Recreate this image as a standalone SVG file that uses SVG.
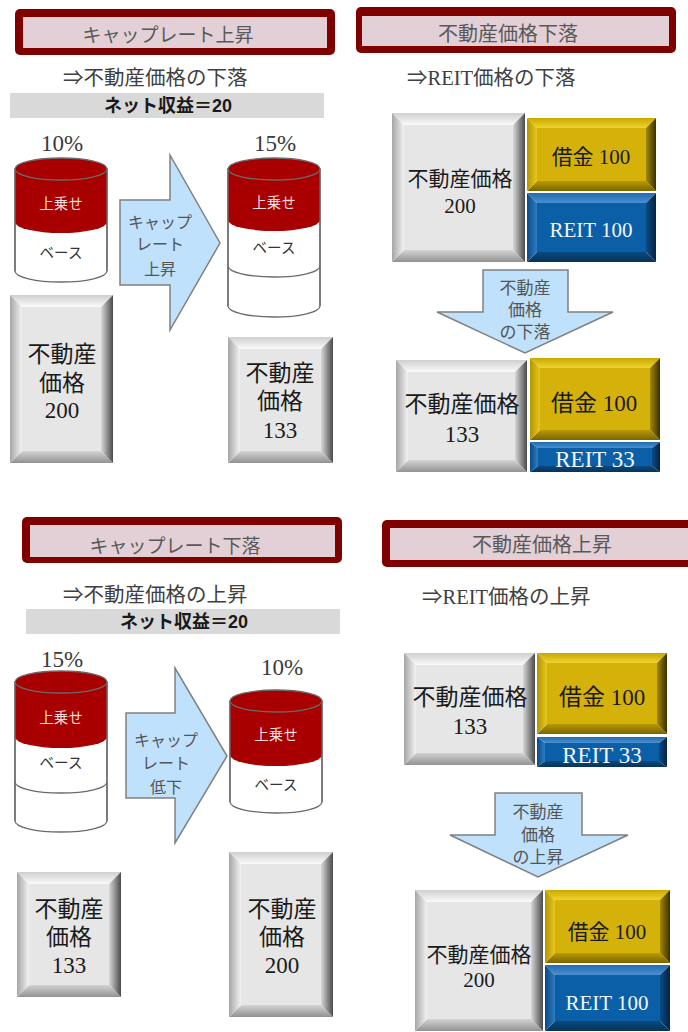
<svg xmlns="http://www.w3.org/2000/svg" width="688" height="1032" viewBox="0 0 688 1032">
<style>
.ttl-o{fill:#800000}
.ttl-i{fill:#e2d0d6}
.ttl{font-family:"Liberation Serif","Noto Sans CJK JP",serif;font-size:19px;fill:#595959;text-anchor:middle}
.sub{font-family:"Liberation Serif","Noto Sans CJK JP",serif;font-size:20.5px;fill:#404040}
.bar{fill:#d9d9d9}
.bart{font-family:"Liberation Sans","Noto Sans CJK JP",sans-serif;font-size:18px;font-weight:bold;fill:#1a1a1a;text-anchor:middle}
.pct{font-family:"Liberation Serif","Noto Sans CJK JP",serif;font-size:23px;fill:#3a3a3a;text-anchor:middle}
.cyl{fill:#fff;stroke:#6a6a6a;stroke-width:1.3}
.red{fill:#a80000}
.redtop{fill:#a80000;stroke:#6a6a6a;stroke-width:1.3}
.ln{fill:none;stroke:#6a6a6a;stroke-width:1.3}
.cw{font-family:"Noto Sans CJK JP",sans-serif;font-size:14.5px;fill:#f4dede;text-anchor:middle}
.cb{font-family:"Noto Sans CJK JP",sans-serif;font-size:14.5px;fill:#333;text-anchor:middle}
.arr{fill:#bfe1fb;stroke:#808080;stroke-width:1.5}
.at{font-family:"Liberation Serif","Noto Sans CJK JP",serif;font-size:16px;fill:#555;text-anchor:middle}
.at2{font-family:"Liberation Serif","Noto Sans CJK JP",serif;font-size:17px;fill:#555;text-anchor:middle}
.bt{font-family:"Liberation Serif","Noto Sans CJK JP",serif;fill:#1a1a1a;text-anchor:middle}
.wt{font-family:"Liberation Serif","Noto Sans CJK JP",serif;fill:#f2f6fa;text-anchor:middle}
.gf{fill:#e6e6e6}.gt{fill:url(#gT)}.gl{fill:url(#gL)}.gr{fill:url(#gR)}.gb{fill:url(#gB)}
.yf{fill:#d4b20a}.yt{fill:url(#yT)}.yl{fill:url(#yL)}.yr{fill:url(#yR)}.yb{fill:url(#yB)}
.uf{fill:#0b5fa6}.ut{fill:url(#uT)}.ul{fill:url(#uL)}.ur{fill:url(#uR)}.ub{fill:url(#uB)}
</style>
<defs>
<linearGradient id="gT" x1="0" y1="0" x2="0" y2="1"><stop offset="0" stop-color="#cfcfcf"/><stop offset="1" stop-color="#fafafa"/></linearGradient>
<linearGradient id="gL" x1="0" y1="0" x2="1" y2="0"><stop offset="0" stop-color="#a6a6a6"/><stop offset="1" stop-color="#f2f2f2"/></linearGradient>
<linearGradient id="gR" x1="0" y1="0" x2="1" y2="0"><stop offset="0" stop-color="#d8d8d8"/><stop offset="1" stop-color="#4a4a4a"/></linearGradient>
<linearGradient id="gB" x1="0" y1="0" x2="0" y2="1"><stop offset="0" stop-color="#d4d4d4"/><stop offset="1" stop-color="#929292"/></linearGradient>
<linearGradient id="yT" x1="0" y1="0" x2="0" y2="1"><stop offset="0" stop-color="#c9a900"/><stop offset="1" stop-color="#f0d330"/></linearGradient>
<linearGradient id="yL" x1="0" y1="0" x2="1" y2="0"><stop offset="0" stop-color="#b39500"/><stop offset="1" stop-color="#e6c720"/></linearGradient>
<linearGradient id="yR" x1="0" y1="0" x2="1" y2="0"><stop offset="0" stop-color="#a48800"/><stop offset="1" stop-color="#3a3000"/></linearGradient>
<linearGradient id="yB" x1="0" y1="0" x2="0" y2="1"><stop offset="0" stop-color="#b89a00"/><stop offset="1" stop-color="#7a6500"/></linearGradient>
<linearGradient id="uT" x1="0" y1="0" x2="0" y2="1"><stop offset="0" stop-color="#1f6cb0"/><stop offset="1" stop-color="#4b8fd0"/></linearGradient>
<linearGradient id="uL" x1="0" y1="0" x2="1" y2="0"><stop offset="0" stop-color="#0a4a85"/><stop offset="1" stop-color="#2f7cc2"/></linearGradient>
<linearGradient id="uR" x1="0" y1="0" x2="1" y2="0"><stop offset="0" stop-color="#0a4c88"/><stop offset="1" stop-color="#06223f"/></linearGradient>
<linearGradient id="uB" x1="0" y1="0" x2="0" y2="1"><stop offset="0" stop-color="#0a4a82"/><stop offset="1" stop-color="#073257"/></linearGradient>
</defs>

<!-- ===== Top-left panel ===== -->
<g id="title-cap-up">
<rect class="ttl-o" x="15" y="9" width="320" height="46" rx="5"/>
<rect class="ttl-i" x="23" y="17" width="304" height="31"/>
<text class="ttl" x="168" y="42">キャップレート上昇</text>
</g>
<g id="sub-tl"><text class="sub" x="63" y="85">⇒不動産価格の下落</text></g>
<g id="bar-tl">
<rect class="bar" x="10" y="93" width="314" height="25"/>
<text class="bart" x="168" y="112">ネット収益＝20</text>
</g>

<g id="cyl-tl1">
<text class="pct" x="62" y="151">10%</text>
<path class="cyl" d="M15,169 L15,271 A46,11 0 0 0 107,271 L107,169 Z"/>
<path class="red" d="M15,169 L15,222 A46,11 0 0 0 107,222 L107,169 Z"/>
<path class="ln" d="M15,169 L15,271 M107,169 L107,271"/>
<ellipse class="redtop" cx="61" cy="169" rx="46" ry="11"/>
<text class="cw" x="61" y="209">上乗せ</text>
<text class="cb" x="61" y="258">ベース</text>
</g>

<g id="arrow-tl">
<polygon class="arr" points="120,200 170,200 170,155 220,243 170,330 170,285 120,285"/>
<text class="at" x="160" y="228">キャップ</text>
<text class="at" x="160" y="250">レート</text>
<text class="at" x="160" y="275">上昇</text>
</g>

<g id="cyl-tl2">
<text class="pct" x="275" y="151">15%</text>
<path class="cyl" d="M228,169 L228,306 A46,11 0 0 0 320,306 L320,169 Z"/>
<path class="red" d="M228,169 L228,220 A46,11 0 0 0 320,220 L320,169 Z"/>
<path class="ln" d="M228,169 L228,306 M320,169 L320,306 M228,266 A46,11 0 0 0 320,266"/>
<ellipse class="redtop" cx="274" cy="169" rx="46" ry="11"/>
<text class="cw" x="274" y="208">上乗せ</text>
<text class="cb" x="274" y="253">ベース</text>
</g>

<g id="box-tl-200">
<polygon class="gt" points="10,295 113,295 101,307 22,307"/>
<polygon class="gb" points="10,463 113,463 101,451 22,451"/>
<polygon class="gl" points="10,295 22,307 22,451 10,463"/>
<polygon class="gr" points="113,295 101,307 101,451 113,463"/>
<rect class="gf" x="22" y="307" width="79" height="144"/>
<text class="bt" font-size="23" x="62" y="362">不動産</text>
<text class="bt" font-size="23" x="62" y="391">価格</text>
<text class="bt" font-size="23" x="62" y="418">200</text>
</g>

<g id="box-tl-133">
<polygon class="gt" points="228,337 333,337 321,349 240,349"/>
<polygon class="gb" points="228,463 333,463 321,451 240,451"/>
<polygon class="gl" points="228,337 240,349 240,451 228,463"/>
<polygon class="gr" points="333,337 321,349 321,451 333,463"/>
<rect class="gf" x="240" y="349" width="81" height="102"/>
<text class="bt" font-size="23" x="280" y="381">不動産</text>
<text class="bt" font-size="23" x="280" y="409">価格</text>
<text class="bt" font-size="23" x="280" y="438">133</text>
</g>

<!-- ===== Top-right panel ===== -->
<g id="title-price-down">
<rect class="ttl-o" x="356" y="7" width="320" height="46" rx="5"/>
<rect class="ttl-i" x="362" y="16" width="307" height="30"/>
<text class="ttl" x="508" y="41" style="font-size:20px">不動産価格下落</text>
</g>
<g id="sub-tr"><text class="sub" x="407" y="85">⇒REIT価格の下落</text></g>

<g id="box-tr-gray1">
<polygon class="gt" points="392,113 525,113 513,125 404,125"/>
<polygon class="gb" points="392,262 525,262 513,250 404,250"/>
<polygon class="gl" points="392,113 404,125 404,250 392,262"/>
<polygon class="gr" points="525,113 513,125 513,250 525,262"/>
<rect class="gf" x="404" y="125" width="109" height="125"/>
<text class="bt" font-size="21" x="460" y="186">不動産価格</text>
<text class="bt" font-size="21" x="460" y="213">200</text>
</g>
<g id="box-tr-gold1">
<polygon class="yt" points="527,118 656,118 646,128 537,128"/>
<polygon class="yb" points="527,191 656,191 646,181 537,181"/>
<polygon class="yl" points="527,118 537,128 537,181 527,191"/>
<polygon class="yr" points="656,118 646,128 646,181 656,191"/>
<rect class="yf" x="537" y="128" width="109" height="53"/>
<text class="bt" font-size="21" x="591" y="164">借金 100</text>
</g>
<g id="box-tr-blue1">
<polygon class="ut" points="527,193 656,193 646,203 537,203"/>
<polygon class="ub" points="527,262 656,262 646,252 537,252"/>
<polygon class="ul" points="527,193 537,203 537,252 527,262"/>
<polygon class="ur" points="656,193 646,203 646,252 656,262"/>
<rect class="uf" x="537" y="203" width="109" height="49"/>
<text class="wt" font-size="21" x="591" y="237">REIT 100</text>
</g>

<g id="arrow-tr">
<polygon class="arr" points="483,270 568,270 568,312 613,312 525,353 437,312 483,312"/>
<text class="at2" x="525" y="294">不動産</text>
<text class="at2" x="525" y="316">価格</text>
<text class="at2" x="525" y="338">の下落</text>
</g>

<g id="box-tr-gray2">
<polygon class="gt" points="396,360 527,360 515,372 408,372"/>
<polygon class="gb" points="396,472 527,472 515,460 408,460"/>
<polygon class="gl" points="396,360 408,372 408,460 396,472"/>
<polygon class="gr" points="527,360 515,372 515,460 527,472"/>
<rect class="gf" x="408" y="372" width="107" height="88"/>
<text class="bt" font-size="23" x="462" y="412">不動産価格</text>
<text class="bt" font-size="23" x="462" y="442">133</text>
</g>
<g id="box-tr-gold2">
<polygon class="yt" points="530,358 660,358 650,368 540,368"/>
<polygon class="yb" points="530,440 660,440 650,430 540,430"/>
<polygon class="yl" points="530,358 540,368 540,430 530,440"/>
<polygon class="yr" points="660,358 650,368 650,430 660,440"/>
<rect class="yf" x="540" y="368" width="110" height="62"/>
<text class="bt" font-size="23" x="594" y="411">借金 100</text>
</g>
<g id="box-tr-blue2">
<polygon class="ut" points="530,442 660,442 652,448 538,448"/>
<polygon class="ub" points="530,472 660,472 652,466 538,466"/>
<polygon class="ul" points="530,442 538,448 538,466 530,472"/>
<polygon class="ur" points="660,442 652,448 652,466 660,472"/>
<rect class="uf" x="538" y="448" width="114" height="18"/>
<text class="wt" font-size="23" x="595" y="467">REIT 33</text>
</g>

<!-- ===== Bottom-left panel ===== -->
<g id="title-cap-down">
<rect class="ttl-o" x="22" y="517" width="320" height="46" rx="5"/>
<rect class="ttl-i" x="30" y="525" width="305" height="32"/>
<text class="ttl" x="175" y="553">キャップレート下落</text>
</g>
<g id="sub-bl"><text class="sub" x="63" y="602">⇒不動産価格の上昇</text></g>
<g id="bar-bl">
<rect class="bar" x="26" y="609" width="314" height="25"/>
<text class="bart" x="184" y="628">ネット収益＝20</text>
</g>

<g id="cyl-bl1">
<text class="pct" x="62" y="667">15%</text>
<path class="cyl" d="M15,682 L15,821 A46,11 0 0 0 107,821 L107,682 Z"/>
<path class="red" d="M15,682 L15,737 A46,11 0 0 0 107,737 L107,682 Z"/>
<path class="ln" d="M15,682 L15,821 M107,682 L107,821 M15,782 A46,11 0 0 0 107,782"/>
<ellipse class="redtop" cx="61" cy="682" rx="46" ry="11"/>
<text class="cw" x="61" y="723">上乗せ</text>
<text class="cb" x="61" y="768">ベース</text>
</g>

<g id="arrow-bl">
<polygon class="arr" points="126,713 175,713 175,668 227,756 175,843 175,798 126,798"/>
<text class="at" x="166" y="746">キャップ</text>
<text class="at" x="166" y="769">レート</text>
<text class="at" x="166" y="793">低下</text>
</g>

<g id="cyl-bl2">
<text class="pct" x="282" y="675">10%</text>
<path class="cyl" d="M230,701 L230,802 A46,11 0 0 0 322,802 L322,701 Z"/>
<path class="red" d="M230,701 L230,755 A46,11 0 0 0 322,755 L322,701 Z"/>
<path class="ln" d="M230,701 L230,802 M322,701 L322,802"/>
<ellipse class="redtop" cx="276" cy="701" rx="46" ry="11"/>
<text class="cw" x="276" y="740">上乗せ</text>
<text class="cb" x="276" y="790">ベース</text>
</g>

<g id="box-bl-133">
<polygon class="gt" points="17,872 121,872 109,884 29,884"/>
<polygon class="gb" points="17,997 121,997 109,985 29,985"/>
<polygon class="gl" points="17,872 29,884 29,985 17,997"/>
<polygon class="gr" points="121,872 109,884 109,985 121,997"/>
<rect class="gf" x="29" y="884" width="80" height="101"/>
<text class="bt" font-size="23" x="69" y="917">不動産</text>
<text class="bt" font-size="23" x="69" y="945">価格</text>
<text class="bt" font-size="23" x="69" y="973">133</text>
</g>

<g id="box-bl-200">
<polygon class="gt" points="229,852 333,852 321,864 241,864"/>
<polygon class="gb" points="229,1017 333,1017 321,1005 241,1005"/>
<polygon class="gl" points="229,852 241,864 241,1005 229,1017"/>
<polygon class="gr" points="333,852 321,864 321,1005 333,1017"/>
<rect class="gf" x="241" y="864" width="80" height="141"/>
<text class="bt" font-size="23" x="282" y="917">不動産</text>
<text class="bt" font-size="23" x="282" y="945">価格</text>
<text class="bt" font-size="23" x="282" y="973">200</text>
</g>

<!-- ===== Bottom-right panel ===== -->
<g id="title-price-up">
<rect class="ttl-o" x="382" y="520" width="330" height="47" rx="5"/>
<rect class="ttl-i" x="390" y="528" width="310" height="32"/>
<text class="ttl" x="542" y="552" style="font-size:20px">不動産価格上昇</text>
</g>
<g id="sub-br"><text class="sub" x="422" y="604">⇒REIT価格の上昇</text></g>

<g id="box-br-gray1">
<polygon class="gt" points="404,653 535,653 523,665 416,665"/>
<polygon class="gb" points="404,765 535,765 523,753 416,753"/>
<polygon class="gl" points="404,653 416,665 416,753 404,765"/>
<polygon class="gr" points="535,653 523,665 523,753 535,765"/>
<rect class="gf" x="416" y="665" width="107" height="88"/>
<text class="bt" font-size="23" x="470" y="705">不動産価格</text>
<text class="bt" font-size="23" x="470" y="734">133</text>
</g>
<g id="box-br-gold1">
<polygon class="yt" points="537,653 667,653 657,663 547,663"/>
<polygon class="yb" points="537,734 667,734 657,724 547,724"/>
<polygon class="yl" points="537,653 547,663 547,724 537,734"/>
<polygon class="yr" points="667,653 657,663 657,724 667,734"/>
<rect class="yf" x="547" y="663" width="110" height="61"/>
<text class="bt" font-size="23" x="602" y="705">借金 100</text>
</g>
<g id="box-br-blue1">
<polygon class="ut" points="537,737 667,737 659,743 545,743"/>
<polygon class="ub" points="537,767 667,767 659,761 545,761"/>
<polygon class="ul" points="537,737 545,743 545,761 537,767"/>
<polygon class="ur" points="667,737 659,743 659,761 667,767"/>
<rect class="uf" x="545" y="743" width="114" height="18"/>
<text class="wt" font-size="23" x="602" y="763">REIT 33</text>
</g>

<g id="arrow-br">
<polygon class="arr" points="495,793 582,793 582,835 628,835 538,877 450,835 495,835"/>
<text class="at2" x="538" y="818">不動産</text>
<text class="at2" x="538" y="841">価格</text>
<text class="at2" x="538" y="863">の上昇</text>
</g>

<g id="box-br-gray2">
<polygon class="gt" points="415,890 543,890 531,902 427,902"/>
<polygon class="gb" points="415,1031 543,1031 531,1019 427,1019"/>
<polygon class="gl" points="415,890 427,902 427,1019 415,1031"/>
<polygon class="gr" points="543,890 531,902 531,1019 543,1031"/>
<rect class="gf" x="427" y="902" width="104" height="117"/>
<text class="bt" font-size="21" x="479" y="962">不動産価格</text>
<text class="bt" font-size="21" x="479" y="987">200</text>
</g>
<g id="box-br-gold2">
<polygon class="yt" points="545,890 670,890 660,900 555,900"/>
<polygon class="yb" points="545,963 670,963 660,953 555,953"/>
<polygon class="yl" points="545,890 555,900 555,953 545,963"/>
<polygon class="yr" points="670,890 660,900 660,953 670,963"/>
<rect class="yf" x="555" y="900" width="105" height="53"/>
<text class="bt" font-size="21" x="607" y="939">借金 100</text>
</g>
<g id="box-br-blue2">
<polygon class="ut" points="545,965 670,965 660,975 555,975"/>
<polygon class="ub" points="545,1031 670,1031 660,1021 555,1021"/>
<polygon class="ul" points="545,965 555,975 555,1021 545,1031"/>
<polygon class="ur" points="670,965 660,975 660,1021 670,1031"/>
<rect class="uf" x="555" y="975" width="105" height="46"/>
<text class="wt" font-size="21" x="607" y="1010">REIT 100</text>
</g>

<g id="connectors"></g>
</svg>
